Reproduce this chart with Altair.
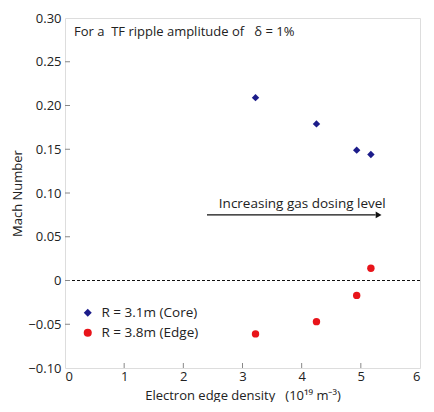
import altair as alt
import pandas as pd

density_core = [3.22, 4.25, 4.93, 5.17]
mach_core = [0.209, 0.179, 0.149, 0.144]
density_edge = [3.22, 4.25, 4.93, 5.17]
mach_edge = [-0.061, -0.047, -0.017, 0.014]
series_names = ["R = 3.1m (Core)", "R = 3.8m (Edge)"]
x_ticks = [0, 1, 2, 3, 4, 5, 6]
y_ticks = [-0.10, -0.05, 0, 0.05, 0.10, 0.15, 0.20, 0.25, 0.30]

df = pd.DataFrame({
    "density": density_core + density_edge,
    "mach": mach_core + mach_edge,
    "series": [series_names[0]] * len(density_core) + [series_names[1]] * len(density_edge),
})

W, H = 355, 350
FONT = "Open Sans"
NB = "\u00a0"

xs = alt.Scale(domain=[0, 6], nice=False)
ys = alt.Scale(domain=[-0.10, 0.30], nice=False)

points = alt.Chart(df).mark_point(filled=True, opacity=1, size=55).encode(
    x=alt.X("density:Q", scale=xs,
            axis=alt.Axis(values=x_ticks, format="d",
                          title="Electron edge density" + NB * 3 + "(10¹⁹ m⁻³)",
                          ticks=False, domain=False, grid=False, labelFontSize=13,
                          labelPadding=2, titleFontSize=13, titleFontWeight="normal",
                          titlePadding=6, labelColor="#222", titleColor="#222")),
    y=alt.Y("mach:Q", scale=ys,
            axis=alt.Axis(values=y_ticks, title="Mach Number", ticks=False, domain=False,
                          grid=False, labelFontSize=13, labelPadding=4,
                          labelExpr="datum.value == 0 ? '0' : replace(format(datum.value, '.2f'), '-', '−')",
                          titleFontSize=13, titleFontWeight="normal", titlePadding=3,
                          labelColor="#222", titleColor="#222")),
    color=alt.Color("series:N", scale=alt.Scale(domain=series_names, range=["#1c1c8a", "#e8141a"]),
                    legend=alt.Legend(title=None, orient="none", legendX=16, legendY=288,
                                      labelFontSize=13.5, labelFont=FONT, symbolSize=65,
                                      rowPadding=5, labelOffset=7, labelColor="#222")),
    shape=alt.Shape("series:N", scale=alt.Scale(domain=series_names, range=["diamond", "circle"]),
                    legend=None),
)

zero = alt.Chart(pd.DataFrame({"y": [0]})).mark_rule(color="#111", strokeDash=[3, 2], strokeWidth=1).encode(
    y=alt.Y("y:Q", scale=ys)
)

xt = alt.Chart(pd.DataFrame({"x": x_ticks[1:-1]})).mark_rule(color="#888").encode(
    x=alt.X("x:Q", scale=xs), y=alt.value(H), y2=alt.value(H - 5)
)
yt = alt.Chart(pd.DataFrame({"y": y_ticks[1:-1]})).mark_rule(color="#888").encode(
    y=alt.Y("y:Q", scale=ys), x=alt.value(0), x2=alt.value(5)
)

title = alt.Chart(pd.DataFrame({"t": ["For a" + NB * 2 + "TF ripple amplitude of" + NB * 3 + "δ = 1%"]})).mark_text(
    align="left", baseline="middle", fontSize=13, font=FONT, color="#222"
).encode(x=alt.value(9), y=alt.value(14), text="t:N")

ann = alt.Chart(pd.DataFrame({"x": [2.6], "y": [0.088], "t": ["Increasing gas dosing level"]})).mark_text(
    align="left", baseline="middle", fontSize=13.5, font=FONT, color="#222"
).encode(x=alt.X("x:Q", scale=xs), y=alt.Y("y:Q", scale=ys), text="t:N")

arrow_line = alt.Chart(pd.DataFrame({"x": [2.4], "x2": [5.25], "y": [0.075]})).mark_rule(color="#111", strokeWidth=1.2).encode(
    x=alt.X("x:Q", scale=xs), x2="x2:Q", y=alt.Y("y:Q", scale=ys)
)
arrow_head = alt.Chart(pd.DataFrame({"x": [5.3], "y": [0.075]})).mark_point(
    shape="triangle-right", filled=True, color="#111", opacity=1, size=45
).encode(x=alt.X("x:Q", scale=xs), y=alt.Y("y:Q", scale=ys))

chart = alt.layer(zero, xt, yt, title, ann, arrow_line, arrow_head, points).properties(
    width=W, height=H,
    autosize=alt.AutoSizeParams(type="none"),
    padding={"left": 57, "top": 10, "right": 6, "bottom": 34},
).configure_view(stroke="#888", strokeWidth=1).configure(font=FONT)

chart.save("out.html", embed_options={"renderer": "svg", "actions": False})
